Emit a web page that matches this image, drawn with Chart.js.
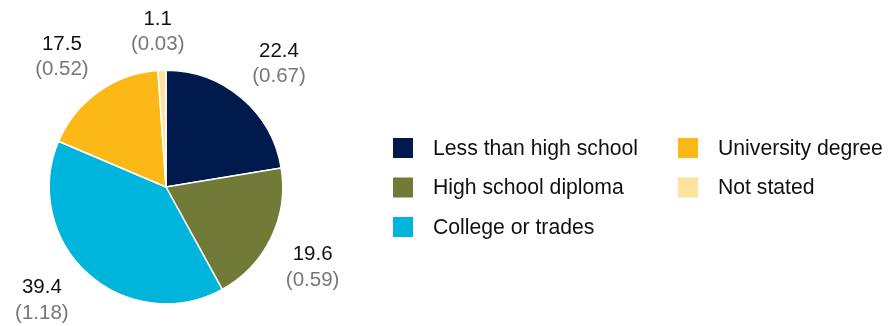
<!DOCTYPE html>
<html>
<head>
<meta charset="utf-8">
<script src="https://cdn.jsdelivr.net/npm/chart.js@4"></script>
<style>
  html, body { margin: 0; padding: 0; background: #fff; }
</style>
</head>
<body>
<canvas id="myChart" width="891" height="326"></canvas>
<script>
const categories = ['Less than high school', 'High school diploma', 'College or trades', 'University degree', 'Not stated'];
const percentValues = [22.4, 19.6, 39.4, 17.5, 1.1];
const shareValues = ['0.67', '0.59', '1.18', '0.52', '0.03'];
const sliceColors = ['#001a4d', '#717a36', '#00b5dc', '#fbb816', '#fde39d'];

const labelFont = '20.5px "Liberation Sans", Arial, sans-serif';
const legendFont = '21.2px "Liberation Sans", Arial, sans-serif';

// value labels outside each slice: the corner of the label block nearest
// the pie sits a fixed gap beyond the rim, on the slice's mid angle.
// Labels that would leave the canvas are pushed back in and slid along the circle.
const sliceLabels = {
  id: 'sliceLabels',
  afterDatasetsDraw(chart) {
    const ctx = chart.ctx;
    const arcs = chart.getDatasetMeta(0).data;
    const clamp = (v, lo, hi) => Math.max(lo, Math.min(hi, v));
    ctx.save();
    ctx.font = labelFont;
    ctx.textAlign = 'center';
    ctx.textBaseline = 'middle';
    arcs.forEach((arc, i) => {
      const line1 = percentValues[i].toFixed(1);
      const line2 = '(' + shareValues[i] + ')';
      const halfW = Math.max(ctx.measureText(line1).width, ctx.measureText(line2).width) / 2;
      const halfH = 22;
      const mid = (arc.startAngle + arc.endAngle) / 2;
      const dx = Math.cos(mid), dy = Math.sin(mid);
      const sx = clamp(dx * 4, -1, 1), sy = clamp(dy * 4, -1, 1);
      const d = arc.outerRadius + 16.5;
      let px = arc.x + dx * d;
      let py = arc.y + dy * d;
      const cy = clamp(py + halfH * sy, halfH + 4, chart.height - halfH - 4);
      if (cy !== py + halfH * sy) {
        py = cy - halfH * sy;
        const ry = py - arc.y;
        px = arc.x + Math.sign(dx) * Math.sqrt(Math.max(0, d * d - ry * ry));
      }
      const x = px + halfW * sx;
      const y = cy;
      ctx.fillStyle = '#111';
      ctx.fillText(line1, x, y - 12.5);
      ctx.fillStyle = '#777';
      ctx.fillText(line2, x, y + 13);
    });
    ctx.restore();
  }
};

// legend in two columns, filled top to bottom
const columnLegend = {
  id: 'columnLegend',
  afterDraw(chart) {
    const ctx = chart.ctx;
    const rows = 3;
    ctx.save();
    ctx.font = legendFont;
    ctx.textBaseline = 'middle';
    ctx.textAlign = 'left';
    categories.forEach((name, i) => {
      const col = Math.floor(i / rows);
      const row = i % rows;
      const x = 393 + col * 285;
      const y = 138 + row * 39.5;
      ctx.fillStyle = sliceColors[i];
      ctx.fillRect(x, y, 20, 20);
      ctx.fillStyle = '#111';
      ctx.fillText(name, x + 40, y + 11);
    });
    ctx.restore();
  }
};

const chartCanvas = document.getElementById('myChart');
const myChart = new Chart(chartCanvas.getContext('2d'), {
  type: 'pie',
  data: {
    labels: categories,
    datasets: [{
      data: percentValues,
      backgroundColor: sliceColors,
      borderColor: '#ffffff',
      borderWidth: 1.5
    }]
  },
  options: {
    responsive: false,
    animation: false,
    layout: {
      padding: { left: 48.5, right: 607.5, top: 69.5, bottom: 21.5 }
    },
    plugins: {
      legend: { display: false },
      tooltip: { enabled: false }
    }
  },
  plugins: [sliceLabels, columnLegend]
});
</script>
</body>
</html>
